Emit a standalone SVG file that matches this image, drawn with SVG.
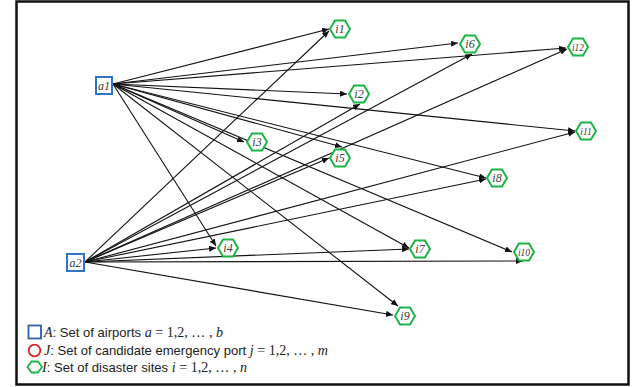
<svg xmlns="http://www.w3.org/2000/svg" width="634" height="387" viewBox="0 0 634 387">
<style>
.hex{fill:#fff;stroke:#1db446;stroke-width:2}
.box{fill:#fff;stroke:#2e75c6;stroke-width:2}
.lbl{font-family:"Liberation Serif",serif;font-style:italic;font-size:12px;fill:#404040;text-anchor:middle}
.sm{font-size:9.5px}
.e{stroke:#111;stroke-width:1.1;fill:none;marker-end:url(#ah)}
.lt{font-family:"Liberation Sans",sans-serif;font-size:13px;fill:#222}
.m{font-family:"Liberation Serif",serif;font-style:italic;font-size:14px}
.mn{font-family:"Liberation Serif",serif;font-style:normal;font-size:14px}
</style>
<defs>
<marker id="ah" markerUnits="userSpaceOnUse" markerWidth="7" markerHeight="6" refX="7" refY="3" orient="auto">
<path d="M0,0 L7,3 L0,6 z" fill="#111"/>
</marker>
<polygon id="hx" points="-10,0 -5,-8.5 5,-8.5 10,0 5,8.5 -5,8.5"/>
</defs>
<rect x="16.5" y="1.5" width="612" height="383" fill="#fff" stroke="#111" stroke-width="2.5"/>
<g id="connectors">
<line class="e" x1="113" y1="84" x2="329" y2="29"/>
<line class="e" x1="113" y1="84" x2="458" y2="43"/>
<line class="e" x1="113" y1="84" x2="566" y2="48"/>
<line class="e" x1="113" y1="84" x2="347" y2="94"/>
<line class="e" x1="113" y1="84" x2="575" y2="131"/>
<line class="e" x1="113" y1="84" x2="244" y2="142"/>
<line class="e" x1="113" y1="84" x2="342" y2="147"/>
<line class="e" x1="113" y1="84" x2="486" y2="178"/>
<line class="e" x1="113" y1="84" x2="409" y2="248"/>
<line class="e" x1="113" y1="84" x2="512" y2="252"/>
<line class="e" x1="113" y1="84" x2="398" y2="306"/>
<line class="e" x1="113" y1="84" x2="216" y2="246"/>
<line class="e" x1="85" y1="262" x2="329" y2="31"/>
<line class="e" x1="85" y1="262" x2="472" y2="54"/>
<line class="e" x1="85" y1="262" x2="567" y2="49"/>
<line class="e" x1="85" y1="262" x2="360" y2="104"/>
<line class="e" x1="85" y1="262" x2="575" y2="132"/>
<line class="e" x1="85" y1="262" x2="329" y2="158"/>
<line class="e" x1="85" y1="262" x2="486" y2="179"/>
<line class="e" x1="85" y1="262" x2="216" y2="248"/>
<line class="e" x1="85" y1="262" x2="409" y2="249"/>
<line class="e" x1="85" y1="262" x2="523" y2="261"/>
<line class="e" x1="85" y1="262" x2="393" y2="315"/>
</g>
<g id="a1"><rect class="box" x="96" y="77" width="16" height="17"/><text class="lbl" x="104" y="89.5">a1</text></g>
<g id="a2"><rect class="box" x="67" y="254" width="17" height="17"/><text class="lbl" x="75.5" y="266.5">a2</text></g>
<g id="i1"><use href="#hx" class="hex" x="340" y="29"/><text class="lbl" x="340" y="33">i1</text></g>
<g id="i6"><use href="#hx" class="hex" x="470" y="44"/><text class="lbl" x="470" y="48">i6</text></g>
<g id="i12"><use href="#hx" class="hex" x="578" y="47"/><text class="lbl sm" x="578" y="50.5">i12</text></g>
<g id="i2"><use href="#hx" class="hex" x="359" y="94"/><text class="lbl" x="359" y="98">i2</text></g>
<g id="i11"><use href="#hx" class="hex" x="586" y="131"/><text class="lbl sm" x="586" y="134.5">i11</text></g>
<g id="i3"><use href="#hx" class="hex" x="257" y="142"/><text class="lbl" x="257" y="146">i3</text></g>
<g id="i5"><use href="#hx" class="hex" x="340" y="158"/><text class="lbl" x="340" y="162">i5</text></g>
<g id="i8"><use href="#hx" class="hex" x="497" y="178"/><text class="lbl" x="497" y="182">i8</text></g>
<g id="i4"><use href="#hx" class="hex" x="228" y="248"/><text class="lbl" x="228" y="252">i4</text></g>
<g id="i7"><use href="#hx" class="hex" x="420" y="249"/><text class="lbl" x="420" y="253">i7</text></g>
<g id="i10"><use href="#hx" class="hex" x="524" y="252"/><text class="lbl sm" x="524" y="255.5">i10</text></g>
<g id="i9"><use href="#hx" class="hex" x="405" y="316"/><text class="lbl" x="405" y="320">i9</text></g>
<g id="legend">
<rect x="28.5" y="325.5" width="12.5" height="13" fill="none" stroke="#2e5fa8" stroke-width="1.8"/>
<circle cx="34.5" cy="350.5" r="5.8" fill="none" stroke="#e02020" stroke-width="1.8"/>
<polygon points="27.5,367 31.5,361.5 38,361.5 42,367 38,372.5 31.5,372.5" fill="none" stroke="#1db446" stroke-width="1.8"/>
<text class="lt" x="44" y="337" textLength="179" lengthAdjust="spacingAndGlyphs"><tspan class="m">A</tspan>: Set of airports <tspan class="m">a</tspan><tspan class="mn"> = 1,2, … , </tspan><tspan class="m">b</tspan></text>
<text class="lt" x="44" y="355" textLength="284" lengthAdjust="spacingAndGlyphs"><tspan class="m">J</tspan>: Set of candidate emergency port  <tspan class="m">j</tspan><tspan class="mn"> = 1,2, … , </tspan><tspan class="m">m</tspan></text>
<text class="lt" x="42" y="372" textLength="205" lengthAdjust="spacingAndGlyphs"><tspan class="m">I</tspan>: Set of disaster sites <tspan class="m">i</tspan><tspan class="mn"> = 1,2, … , </tspan><tspan class="m">n</tspan></text>
</g>
</svg>
